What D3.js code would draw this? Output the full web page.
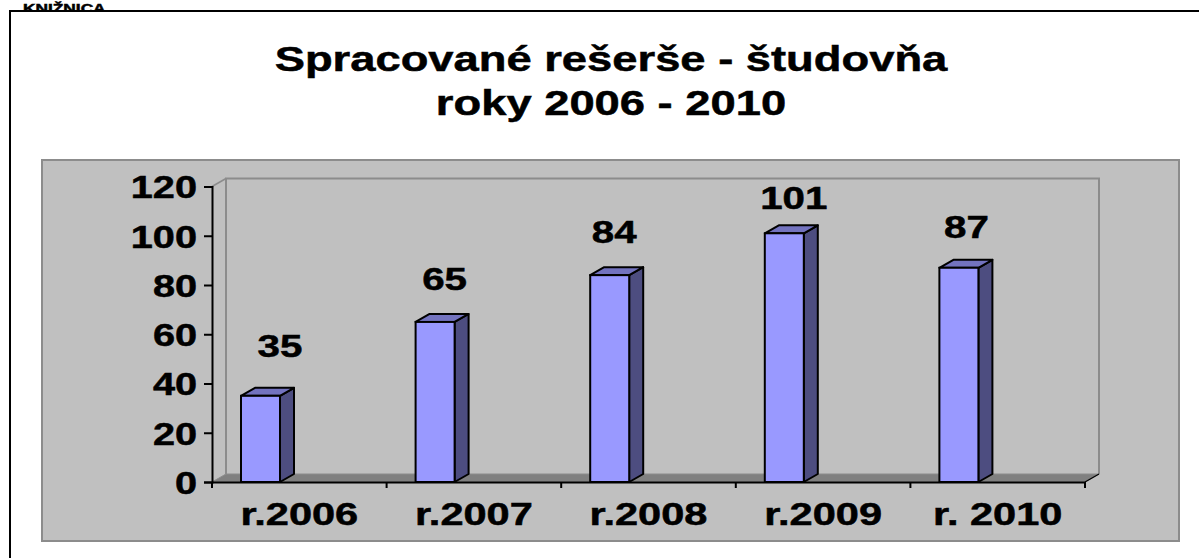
<!DOCTYPE html>
<html><head><meta charset="utf-8">
<script src="https://cdn.jsdelivr.net/npm/d3@7/dist/d3.min.js"></script>
<style>html,body{margin:0;padding:0;background:#fff}svg{display:block}text{font-family:"Liberation Sans",Arial,sans-serif;font-weight:bold;fill:#000;stroke:#000;stroke-width:0.5px}</style>
</head><body><svg id="c" width="1199" height="558"></svg>
<script>
const categories = ["r.2006","r.2007","r.2008","r.2009","r. 2010"];
const values = [35,65,84,101,87];
const yTicks = [0,20,40,60,80,100,120];
const titleLines = ["Spracované rešerše - študovňa","roky 2006 - 2010"];
const headerText = "KNIŽNICA";

const svg = d3.select("#c");
const dx = 14, dy = -8;
const x = d3.scaleBand().domain(categories).range([212,1085]);
const y = d3.scaleLinear().domain([0,120]).range([482,186.5]);
const barW = 39, barInset = 29;
const labelNudge = {35:[19.5,-39],65:[9.5,-32],84:[4.5,-32],101:[9.5,-24],87:[7.5,-30]};
const stretch = (sel,k)=>sel.each(function(){
  const l=this.getComputedTextLength();
  d3.select(this).attr("textLength",l*k).attr("lengthAdjust","spacingAndGlyphs");
});

svg.append("text").attr("x",23).attr("y",12.5).attr("font-size",13).text(headerText).call(stretch,1.33);
svg.append("rect").attr("x",10).attr("y",11).attr("width",1200).attr("height",560).attr("fill","#fff").attr("stroke","#000").attr("stroke-width",2);
svg.append("rect").attr("x",42).attr("y",160).attr("width",1137).attr("height",381).attr("fill","#c0c0c0").attr("stroke","#8c8c8c").attr("stroke-width",2);

svg.selectAll("text.t").data(titleLines).join("text").attr("class","t")
 .attr("x",611).attr("y",(d,i)=>71+i*44).attr("text-anchor","middle").attr("font-size",35).text(d=>d).call(stretch,1.295);

const x0=x.range()[0], x1=x.range()[1], y0=y(0), yT=y(120);
svg.append("polyline").attr("points",[[x0+dx,y0+dy],[x0+dx,yT+dy],[x1+dx,yT+dy],[x1+dx,y0+dy]].join(" "))
 .attr("fill","none").attr("stroke","#8c8c8c").attr("stroke-width",2);
svg.append("line").attr("x1",x0).attr("y1",yT).attr("x2",x0+dx).attr("y2",yT+dy).attr("stroke","#8c8c8c").attr("stroke-width",1.5);
svg.append("polygon").attr("points",[[x0,y0],[x0+dx,y0+dy],[x1+dx,y0+dy],[x1,y0]].join(" "))
 .attr("fill","#808080").attr("stroke","#8c8c8c");

const bars = svg.selectAll("g.bar").data(categories.map((c,i)=>({c,v:values[i]}))).join("g").attr("class","bar");
const bl = d=>x(d.c)+barInset;
bars.append("polygon").attr("points",d=>[[bl(d)+barW,y(d.v)],[bl(d)+barW+dx,y(d.v)+dy],[bl(d)+barW+dx,y0+dy],[bl(d)+barW,y0]].join(" "))
 .attr("fill","#4d4d80").attr("stroke","#000").attr("stroke-width",2).attr("stroke-linejoin","round");
bars.append("polygon").attr("points",d=>[[bl(d),y(d.v)],[bl(d)+dx,y(d.v)+dy],[bl(d)+barW+dx,y(d.v)+dy],[bl(d)+barW,y(d.v)]].join(" "))
 .attr("fill","#7373bf").attr("stroke","#000").attr("stroke-width",2).attr("stroke-linejoin","round");
bars.append("rect").attr("x",bl).attr("y",d=>y(d.v)).attr("width",barW).attr("height",d=>y0-y(d.v))
 .attr("fill","#9999ff").attr("stroke","#000").attr("stroke-width",2);
bars.append("text").attr("x",d=>bl(d)+barW/2+labelNudge[d.v][0]).attr("y",d=>y(d.v)+labelNudge[d.v][1]).attr("text-anchor","middle").attr("font-size",31).text(d=>d.v).call(stretch,1.3);

const yAxis = d3.axisLeft(y).tickValues(yTicks).tickSize(8).tickPadding(7);
const gy = svg.append("g").attr("transform",`translate(${x0},0)`).call(yAxis);
gy.attr("font-family",null).attr("font-size",null);
gy.selectAll("text").attr("font-size",31).attr("dy","0.37em").call(stretch,1.28);
const xAxis = d3.axisBottom(x).tickSize(0).tickPadding(24);
const gx = svg.append("g").attr("transform",`translate(0,${y0})`).call(xAxis);
gx.attr("font-family",null).attr("font-size",null);
gx.selectAll("text").attr("font-size",31).attr("dy","0.71em").attr("y",20.5).call(stretch,1.34);
gx.selectAll(".tick line").remove();
gx.selectAll("line.bt").data(d3.range(categories.length+1)).join("line").attr("class","bt")
 .attr("x1",i=>x0+i*x.step()).attr("x2",i=>x0+i*x.step()).attr("y1",0).attr("y2",6).attr("stroke","#000").attr("stroke-width",2);
svg.selectAll(".domain").attr("stroke","#000").attr("stroke-width",2);
svg.selectAll(".tick line").attr("stroke","#000").attr("stroke-width",2);
svg.append("line").attr("x1",x1).attr("y1",y0).attr("x2",x1+dx).attr("y2",y0+dy).attr("stroke","#000").attr("stroke-width",1.2);
</script></body></html>
